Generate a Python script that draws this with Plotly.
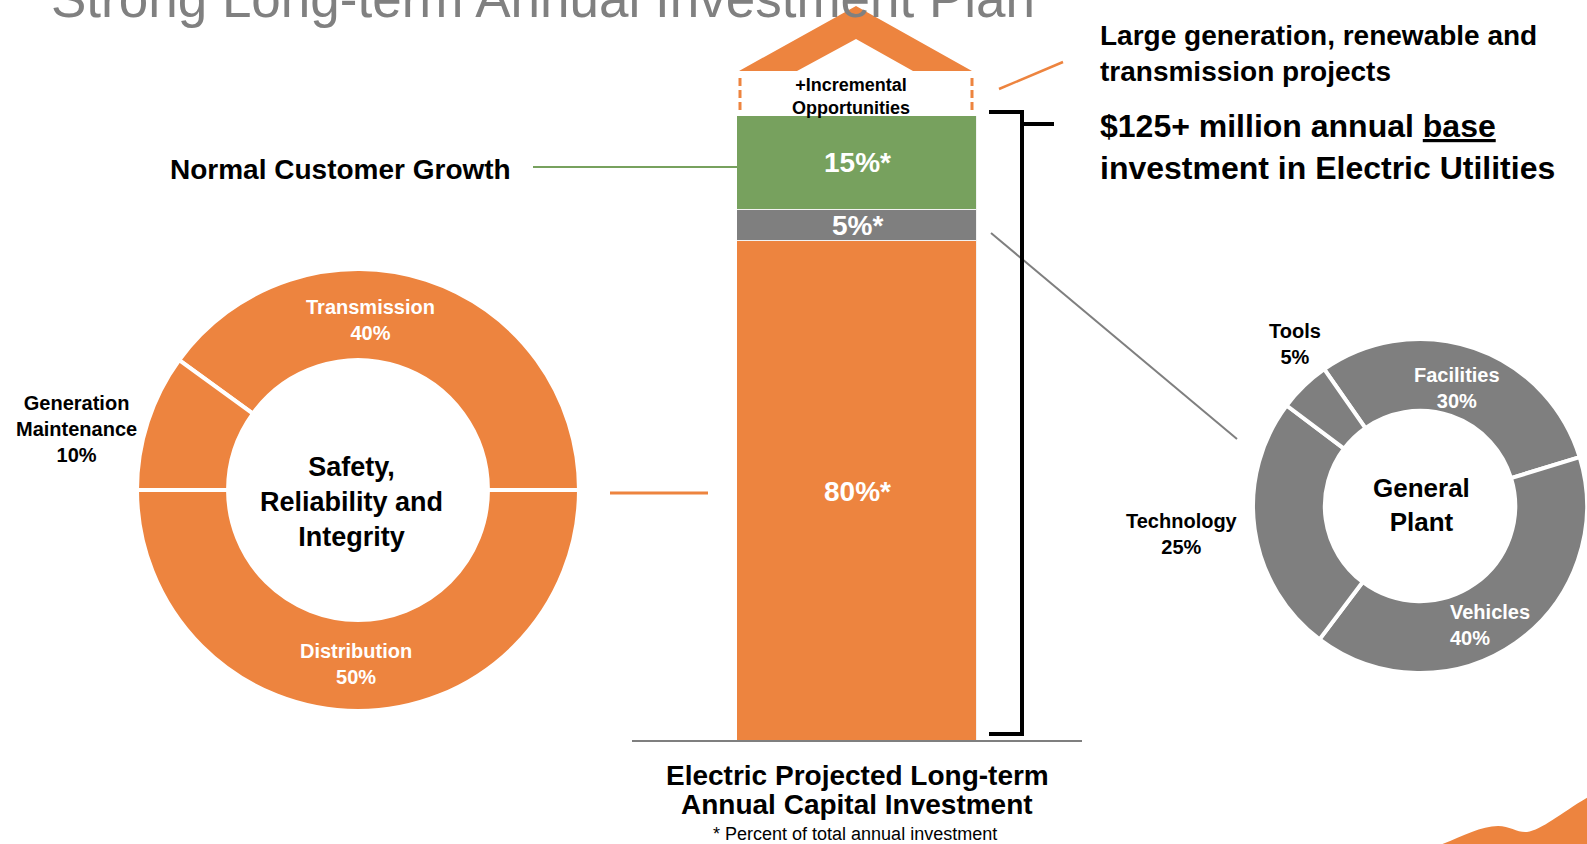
import plotly.graph_objects as go

# ---------------- data ----------------
bar_category = "Electric"
segments = ["Safety, Reliability and Integrity", "General Plant", "Normal Customer Growth"]
segment_pct = [80, 5, 15]

left_labels = ["Transmission", "Distribution", "Generation Maintenance"]
left_values = [40, 50, 10]

right_labels = ["Facilities", "Vehicles", "Technology", "Tools"]
right_values = [30, 40, 25, 5]

# ---------------- style ----------------
W, H = 1587, 844
FONT = "Liberation Sans, Arial, sans-serif"
ORANGE = "#ED843F"
GRAY = "#7F7F7F"
GREEN = "#77A15E"
seg_colors = [ORANGE, GRAY, GREEN]

fig = go.Figure()

# stacked bar
cum = 0
for name, pct, col in zip(segments, segment_pct, seg_colors):
    fig.add_trace(go.Bar(
        x=[bar_category], y=[pct], name=name,
        marker=dict(color=col, line=dict(color="#F2F2F2", width=1.5)),
        xaxis="x2", yaxis="y2", showlegend=False, hoverinfo="skip",
    ))
    fig.add_annotation(
        x=bar_category, y=cum + pct / 2, xref="x2", yref="y2",
        text=f"{pct}%*", showarrow=False,
        font=dict(family=FONT, size=28, color="white", weight="bold"),
    )
    cum += pct

# left donut
fig.add_trace(go.Pie(
    labels=left_labels, values=left_values, hole=0.588, sort=False,
    direction="clockwise", rotation=-54,
    marker=dict(colors=[ORANGE] * len(left_values), line=dict(color="white", width=4)),
    textinfo="none", hoverinfo="skip", showlegend=False,
    domain=dict(x=[137 / W, 579 / W], y=[133 / H, 575 / H]),
))

# right donut
fig.add_trace(go.Pie(
    labels=right_labels, values=right_values, hole=0.57, sort=False,
    direction="clockwise", rotation=-35,
    marker=dict(colors=[GRAY] * len(right_values), line=dict(color="white", width=4)),
    textinfo="none", hoverinfo="skip", showlegend=False,
    domain=dict(x=[1253 / W, 1.0], y=[171 / H, 505 / H]),
))

# donut labels (pixel positions, colors, alignment)
left_pos = {
    "Transmission": (370, 320, "white", "center"),
    "Distribution": (356, 664, "white", "center"),
    "Generation Maintenance": (76, 429, "black", "center"),
}
right_pos = {
    "Facilities": (1457, 388, "white", "center"),
    "Vehicles": (1448, 625, "white", "left"),
    "Technology": (1182, 534, "black", "center"),
    "Tools": (1295, 344, "black", "center"),
}
for labels, values, pos in [(left_labels, left_values, left_pos), (right_labels, right_values, right_pos)]:
    for lab, val in zip(labels, values):
        x, y, c, al = pos[lab]
        fig.add_annotation(
            x=x, y=y, xref="x", yref="y", showarrow=False,
            text=f"{lab.replace(' ', '<br>')}<br>{val}%",
            xanchor="left" if al == "left" else "center", align=al,
            font=dict(family=FONT, size=20, color=c, weight="bold"),
        )

def txt(x, y, s, size, weight="bold", color="black", xanchor="center", align="center"):
    fig.add_annotation(x=x, y=y, xref="x", yref="y", text=s, showarrow=False,
                       xanchor=xanchor, align=align,
                       font=dict(family=FONT, size=size, color=color, weight=weight))

# page title (partly above the top edge, as in the reference)
fig.add_annotation(x=49 / W, y=1 + 1.0 / H, xref="paper", yref="paper", showarrow=False,
                   text="Strong Long-term Annual Investment Plan", xanchor="left", yanchor="middle",
                   font=dict(family=FONT, size=53, color="#808080"))

txt(351, 502, "Safety,<br>Reliability and<br>Integrity", 27)
txt(1421, 505, "General<br>Plant", 26)
txt(851, 96, "+Incremental<br>Opportunities", 18)
txt(513, 169, "Normal Customer Growth", 28, xanchor="right", align="right")
txt(1098, 53, "Large generation, renewable and<br>transmission projects", 28, xanchor="left", align="left")
txt(1098, 147, "$125+ million annual <u>base</u><br>investment in Electric Utilities", 32, xanchor="left", align="left")
txt(857, 775, "Electric Projected Long-term", 28)
txt(857, 804, "Annual Capital Investment", 28)
txt(855, 834, "* Percent of total annual investment", 18, weight="normal")

# decorative shapes (pixel coordinates)
def line(x0, y0, x1, y1, color, width, dash=None):
    fig.add_shape(type="line", x0=x0, y0=y0, x1=x1, y1=y1, xref="x", yref="y",
                  line=dict(color=color, width=width, dash=dash))

fig.add_shape(type="path", xref="x", yref="y",
              path="M 739,71 L 856,6 L 972,71 L 913,71 L 856,39 L 797,71 Z",
              fillcolor=ORANGE, line=dict(width=0))
line(740, 78, 740, 113, ORANGE, 3, "8px,4px")
line(972, 78, 972, 113, ORANGE, 3, "8px,4px")
line(999, 89, 1063, 62, ORANGE, 2.5)
line(533, 167, 737, 167, GREEN, 2)
line(610, 493, 708, 493, ORANGE, 3)
line(991, 233, 1237, 439, GRAY, 2)
line(632, 741, 1082, 741, GRAY, 2)
fig.add_shape(type="path", xref="x", yref="y",
              path="M 989,112 L 1022,112 L 1022,734 L 989,734 M 1022,124 L 1054,124",
              line=dict(color="black", width=4))
fig.add_shape(type="path", xref="x", yref="y",
              path="M 1437,846 C 1460,838 1480,826 1498,826 C 1510,826 1518,833 1527,832 C 1542,830 1562,812 1590,796 L 1590,846 Z",
              fillcolor=ORANGE, line=dict(width=0))

fig.update_layout(
    width=W, height=H, margin=dict(l=0, r=0, t=0, b=0),
    paper_bgcolor="white", plot_bgcolor="rgba(0,0,0,0)",
    barmode="stack", bargap=0,
    xaxis=dict(range=[0, W], domain=[0, 1], visible=False, fixedrange=True),
    yaxis=dict(range=[H, 0], domain=[0, 1], visible=False, fixedrange=True),
    xaxis2=dict(domain=[737 / W, 977 / W], range=[-0.5, 0.5], visible=False, anchor="y2"),
    yaxis2=dict(domain=[(H - 741) / H, (H - 116) / H], range=[0, 100], visible=False, anchor="x2"),
)

fig.write_html("out.html", config={"displayModeBar": False},
               post_script="document.body.style.margin='0';document.body.style.overflow='hidden';")
